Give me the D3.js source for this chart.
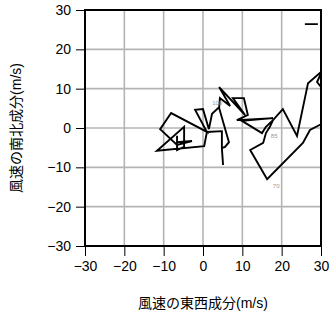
<!DOCTYPE html>
<html><head><meta charset="utf-8">
<script src="https://cdn.jsdelivr.net/npm/d3@7"></script>
<style>body{margin:0;background:#fff}svg{display:block}</style>
</head><body>
<svg id="c" width="331" height="318"></svg>
<script>
// Wind hodograph: u (east-west) and v (north-south) components in m/s; NaN separates pieces
const uWind = [25.9, 29.2, NaN,
  33.6, 29.0, 30.3, 26.7, 23.9, 20.3, 17.8, 16.0, 15.0, 9.9, 17.8, 8.6, 11.4, 10.4, 7.6, 10.7, 4.1, 6.9, 4.3, 4.1, 6.6, 5.6, 4.8, 5.1, NaN,
  36.1, 27.2, 25.4, 16.3, 12.0, 15.3, 16.0, 17.0, 17.8, NaN,
  4.8, 4.8, 1.0, 0.3, -11.7, -4.8, -4.8, -6.6, -6.6, -6.6, -2.8, -6.6, -10.9, -8.1, 1.0, -2.0, 0.0, 1.5, 2.3, 4.1];
const vWind = [26.4, 26.4, NaN,
  5.8, 11.7, 14.5, 11.4, -2.0, 4.8, 2.0, 0.3, -1.3, 1.8, 2.5, 2.0, 3.3, 7.6, 7.6, 3.3, 10.4, 5.6, 7.6, 5.1, -3.6, -4.8, -5.1, -9.4, NaN,
  4.1, -0.5, -3.8, -13.0, -5.6, -3.8, -1.3, 0.3, 2.0, NaN,
  -5.1, -0.8, -1.0, -4.6, -5.8, 0.3, -4.8, -5.6, -2.0, -3.6, -3.3, -4.3, -0.3, 3.8, -1.0, 4.6, 4.8, -0.3, 3.6, 5.3];
const labelText = ["70", "85", "100"];
const labelU = [18.6, 18.1, 3.6];
const labelV = [-14.7, -2.0, 6.4];
const xTicks = [-30, -20, -10, 0, 10, 20, 30];
const yTicks = [-30, -20, -10, 0, 10, 20, 30];
const xTitle = "風速の東西成分(m/s)";
const yTitle = "風速の南北成分(m/s)";

const svg = d3.select("#c");
const L = 85, R = 321, T = 10, B = 246;
const x = d3.scaleLinear().domain([-30, 30]).range([L, R]);
const y = d3.scaleLinear().domain([-30, 30]).range([B, T]);
const font = "'Liberation Sans', Arial, 'Noto Sans CJK JP', sans-serif";

// grid
const g = svg.append("g");
g.selectAll(".gx").data(xTicks.slice(1, -1)).join("line")
  .attr("x1", d => x(d)).attr("x2", d => x(d)).attr("y1", T).attr("y2", B)
  .attr("stroke", "#b4b4b4").attr("stroke-width", 1.6);
g.selectAll(".gy").data(yTicks.slice(1, -1)).join("line")
  .attr("y1", d => y(d)).attr("y2", d => y(d)).attr("x1", L).attr("x2", R)
  .attr("stroke", "#b4b4b4").attr("stroke-width", 1.6);

// clip
svg.append("clipPath").attr("id", "clip").append("rect")
  .attr("x", L).attr("y", T).attr("width", R - L).attr("height", B - T);

const pts = uWind.map((u, i) => [u, vWind[i]]);
const line = d3.line().defined(d => !isNaN(d[0]) && !isNaN(d[1])).x(d => x(d[0])).y(d => y(d[1]));
svg.append("path").attr("clip-path", "url(#clip)").attr("d", line(pts))
  .attr("fill", "none").attr("stroke", "#000").attr("stroke-width", 1.9)
  .attr("stroke-linejoin", "miter").attr("stroke-miterlimit", 4);

svg.selectAll(".lab").data(labelText).join("text")
  .attr("x", (d, i) => x(labelU[i])).attr("y", (d, i) => y(labelV[i]))
  .attr("text-anchor", "middle").attr("dominant-baseline", "central")
  .attr("font-size", 6).attr("fill", "#999").attr("font-family", font).text(d => d);

// axes
const ax = svg.append("g").attr("transform", `translate(0,${B})`)
  .call(d3.axisBottom(x).tickValues(xTicks).tickSize(10).tickPadding(5));
const ay = svg.append("g").attr("transform", `translate(${L},0)`)
  .call(d3.axisLeft(y).tickValues(yTicks).tickSize(9).tickPadding(5));
[ax, ay].forEach(a => {
  a.select(".domain").remove();
  a.selectAll("line").attr("stroke", "#000").attr("stroke-width", 1);
  a.selectAll("text").attr("font-size", 14).attr("font-family", font).attr("fill", "#000");
});
// frame
svg.append("rect").attr("x", L).attr("y", T).attr("width", R - L).attr("height", B - T)
  .attr("fill", "none").attr("stroke", "#000").attr("stroke-width", 2);

svg.append("text").attr("x", (L + R) / 2).attr("y", 308).attr("text-anchor", "middle")
  .attr("font-size", 14).attr("font-family", font).text(xTitle);
svg.append("text").attr("transform", `translate(16,${(T + B) / 2}) rotate(-90)`)
  .attr("text-anchor", "middle").attr("dominant-baseline", "central")
  .attr("font-size", 14).attr("font-family", font).text(yTitle);
</script>
</body></html>
